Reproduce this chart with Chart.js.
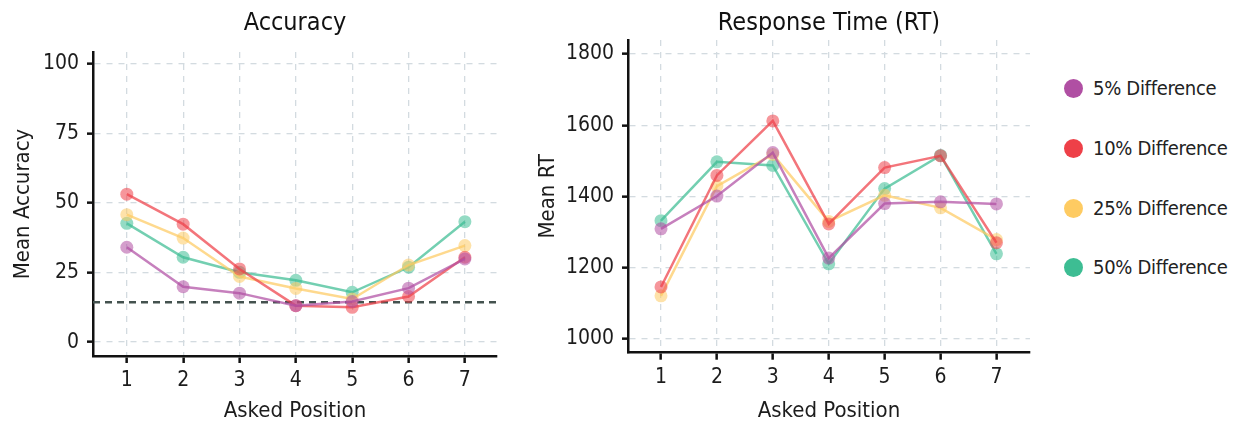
<!DOCTYPE html>
<html>
<head>
<meta charset="utf-8">
<script src="https://cdn.jsdelivr.net/npm/chart.js@4"></script>
<style>
  body { margin: 0; background: #fff; }
  #wrap { position: relative; width: 1239px; height: 425px; background: #fff; overflow: hidden; }
  canvas { position: absolute; top: 0; }
  #legend { position: absolute; left: 1064px; top: 0; font-family: "DejaVu Sans Condensed", "Liberation Sans Narrow", sans-serif; font-size: 20px; letter-spacing: -0.3px; color: #222; z-index: 5; }
  .item { position: absolute; left: 0; height: 30px; white-space: nowrap; display: flex; align-items: center; }
  .dot { width: 19px; height: 19px; border-radius: 50%; margin-right: 10px; }
</style>
</head>
<body>
<div id="wrap">
  <canvas id="accChart" width="510" height="425" style="left:0px"></canvas>
  <canvas id="rtChart" width="520" height="425" style="left:520px"></canvas>
  <div id="legend"></div>
</div>
<script>
// Data
const positions = [1, 2, 3, 4, 5, 6, 7];
const seriesLabels = ['5% Difference', '10% Difference', '25% Difference', '50% Difference'];
const seriesColors = ['176,79,163', '238,64,72', '254,203,98', '61,189,147'];

const accuracy5 = [34.1, 19.9, 17.6, 13.1, 14.6, 19.4, 29.9];
const accuracy10 = [53.2, 42.4, 26.3, 13.1, 12.5, 16.4, 30.5];
const accuracy25 = [45.8, 37.4, 23.6, 19.3, 15.5, 27.7, 34.7];
const accuracy50 = [42.7, 30.5, 25.1, 22.2, 17.9, 26.9, 43.3];

const rt5 = [1309, 1401, 1523, 1227, 1380, 1385, 1379];
const rt10 = [1146, 1459, 1612, 1323, 1481, 1514, 1270];
const rt25 = [1121, 1429, 1518, 1330, 1403, 1368, 1279];
const rt50 = [1332, 1497, 1487, 1211, 1422, 1515, 1239];

const accuracyTicks = [0, 25, 50, 75, 100];
const rtTicks = [1000, 1200, 1400, 1600, 1800];
const chanceLevel = 14.3;

const FONT = '"DejaVu Sans Condensed", "Liberation Sans Narrow", sans-serif';
Chart.defaults.font.family = FONT;
Chart.defaults.font.size = 21;
Chart.defaults.color = '#1c1c1c';

// Build datasets from the series arrays
function buildDatasets(seriesList) {
    return seriesList.map((values, i) => ({
        label: seriesLabels[i],
        data: values.map((v, j) => ({ x: positions[j], y: v })),
        borderColor: 'rgba(' + seriesColors[i] + ',0.72)',
        backgroundColor: 'rgba(' + seriesColors[i] + ',0.55)',
        borderWidth: 2.5,
        pointRadius: 6.5,
        pointBorderWidth: 0,
        pointBackgroundColor: 'rgba(' + seriesColors[i] + ',0.55)',
        tension: 0
    }));
}

// Dashed chance line drawn through the y scale
const chanceLinePlugin = {
    id: 'chanceLine',
    beforeDatasetsDraw(chart, args, opts) {
        if (opts.value === undefined) return;
        const y = chart.scales.y.getPixelForValue(opts.value);
        const ctx = chart.ctx;
        ctx.save();
        ctx.strokeStyle = '#44524f';
        ctx.lineWidth = 2.5;
        ctx.setLineDash([7, 5]);
        ctx.beginPath();
        ctx.moveTo(chart.chartArea.left, y);
        ctx.lineTo(chart.chartArea.right, y);
        ctx.stroke();
        ctx.restore();
    }
};

function makeChart(id, cfg) {
    const ctx = document.getElementById(id).getContext('2d');
    return new Chart(ctx, {
        type: 'line',
        data: { datasets: buildDatasets(cfg.series) },
        plugins: [chanceLinePlugin],
        options: {
            responsive: false,
            animation: false,
            devicePixelRatio: 1,
            layout: { padding: { left: 0, right: cfg.padRight, top: 0, bottom: 0 } },
            plugins: {
                legend: { display: false },
                tooltip: { enabled: false },
                chanceLine: { value: cfg.chance },
                title: {
                    display: true,
                    fullSize: false,
                    text: cfg.title,
                    color: '#111',
                    font: { size: 25, weight: 'normal', lineHeight: 1.2 },
                    padding: { top: 8, bottom: cfg.titleBottom }
                }
            },
            scales: {
                x: {
                    type: 'linear',
                    min: cfg.xMin,
                    max: cfg.xMax,
                    afterBuildTicks: s => { s.ticks = positions.map(v => ({ value: v })); },
                    afterFit: s => { s.height = cfg.xHeight; },
                    grid: {
                        color: '#d3dbe0',
                        lineWidth: 1.3,
                        tickColor: '#111',
                        tickWidth: 2.5,
                        tickLength: 7
                    },
                    border: { display: true, color: '#111', width: 2.5, dash: [6, 6] },
                    ticks: { padding: 7, font: { size: 21, lineHeight: 1 }, color: '#1c1c1c', callback: v => String(v) },
                    title: {
                        display: true,
                        text: 'Asked Position',
                        font: { size: 22, lineHeight: 1.2 },
                        padding: { top: 0, bottom: 0.8 }
                    }
                },
                y: {
                    type: 'linear',
                    min: cfg.yMin,
                    max: cfg.yMax,
                    afterBuildTicks: s => { s.ticks = cfg.yTicks.map(v => ({ value: v })); },
                    afterFit: s => { s.width = cfg.yWidth; },
                    grid: {
                        color: '#d3dbe0',
                        lineWidth: 1.3,
                        tickColor: '#111',
                        tickWidth: 2.5,
                        tickLength: 6
                    },
                    border: { display: true, color: '#111', width: 2.5, dash: [6, 6] },
                    ticks: { padding: 8, font: { size: 21, lineHeight: 1 }, color: '#1c1c1c', callback: v => String(v) },
                    title: {
                        display: true,
                        text: cfg.yTitle,
                        font: { size: 22, lineHeight: 1.2 },
                        padding: { top: cfg.yTitlePad, bottom: 0 }
                    }
                }
            }
        }
    });
}

makeChart('accChart', {
    series: [accuracy5, accuracy10, accuracy25, accuracy50],
    title: 'Accuracy',
    yTitle: 'Mean Accuracy',
    chance: chanceLevel,
    xMin: 0.4, xMax: 7.57,
    yMin: -5, yMax: 104.3,
    yTicks: accuracyTicks,
    yWidth: 93, xHeight: 69,
    padRight: 13, titleBottom: 14,
    yTitlePad: 10
});

makeChart('rtChart', {
    series: [rt5, rt10, rt25, rt50],
    title: 'Response Time (RT)',
    yTitle: 'Mean RT',
    chance: undefined,
    xMin: 0.41, xMax: 7.6,
    yMin: 961.5, yMax: 1839,
    yTicks: rtTicks,
    yWidth: 108, xHeight: 72.3,
    padRight: 10, titleBottom: 2,
    yTitlePad: 15
});

// HTML legend built from the series labels
const legendEl = document.getElementById('legend');
const legendY = [88, 148, 208, 267];
seriesLabels.forEach((label, i) => {
    const item = document.createElement('div');
    item.className = 'item';
    item.style.top = (legendY[i] - 15) + 'px';
    item.innerHTML = '<span class="dot" style="background:rgb(' + seriesColors[i] + ')"></span><span>' + label + '</span>';
    legendEl.appendChild(item);
});
</script>
</body>
</html>
